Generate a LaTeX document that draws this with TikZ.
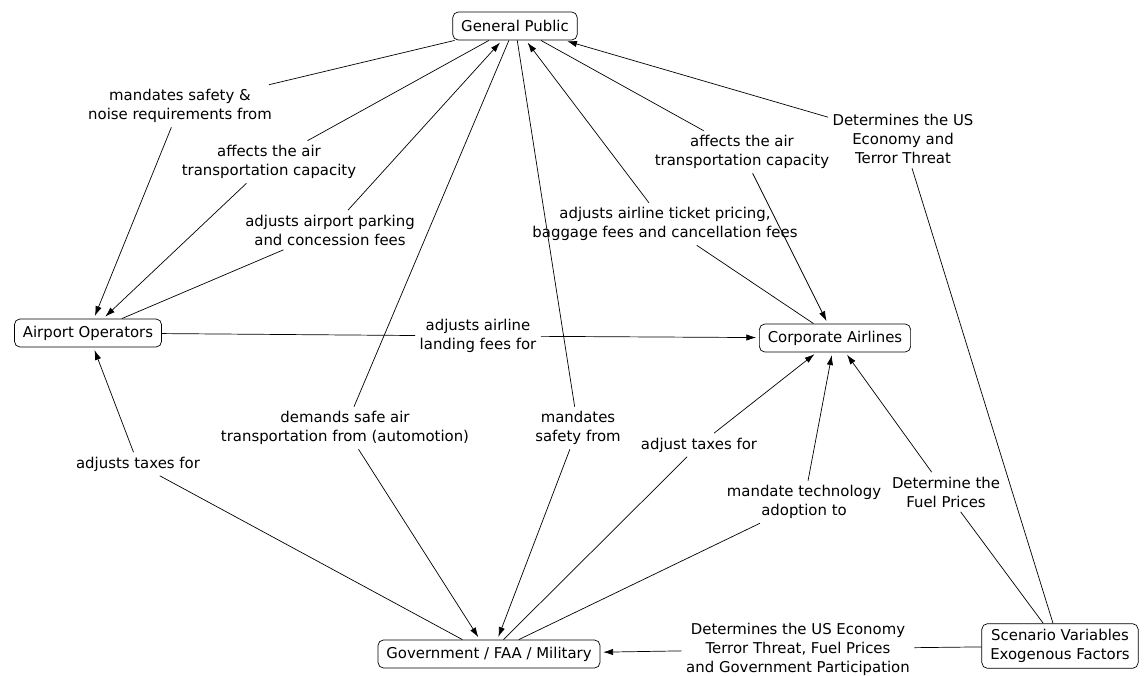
\documentclass[tikz,border=0pt]{standalone}
\usepackage{fontspec}
\setmainfont{DejaVu Sans}
\usetikzlibrary{arrows.meta}

\begin{document}
\begin{tikzpicture}[x=0.025cm,y=-0.025cm,
        font=\fontsize{10.6}{13.5}\selectfont,
        >={Latex[length=7pt,width=4.5pt]},
        every path/.style={line width=0.5pt},
        concept/.style={draw,rounded corners=4pt,inner xsep=6pt,inner ysep=4pt,minimum height=20pt},
        phrase/.style={align=center,inner sep=3pt},
        toarrow/.style={->,shorten >=2pt}]
        \useasboundingbox (0,0) rectangle (1146,676);
        \node(GP)[concept] at (515,26) {General Public};
        \node(AO)[concept] at (88,333) {Airport Operators};
        \node(CA)[concept] at (835,338) {Corporate Airlines};
        \node(GOV)[concept] at (489,654) {Government / FAA / Military};
        \node(SV)[concept,align=center] at (1060,646) {Scenario Variables\\Exogenous Factors};
        \node(L1)[phrase] at (180,106) {mandates safety \&\\noise requirements from};
        \node(L2)[phrase] at (269,162) {affects the air\\transportation capacity};
        \node(L3)[phrase] at (330,230) {adjusts airport parking\\and concession fees};
        \node(L4)[phrase] at (345,428) {demands safe air\\transportation from (automotion)};
        \node(L5)[phrase] at (578,428) {mandates\\safety from};
        \node(L6)[phrase] at (665,224) {adjusts airline ticket pricing,\\baggage fees and cancellation fees};
        \node(L7)[phrase] at (742,152) {affects the air\\transportation capacity};
        \node(L8)[phrase] at (903,139) {Determines the US\\Economy and\\Terror Threat};
        \node(L9)[phrase] at (478,336) {adjusts airline\\landing fees for};
        \node(L10)[phrase] at (138,464) {adjusts taxes for};
        \node(L11)[phrase] at (699,445) {adjust taxes for};
        \node(L12)[phrase] at (804,502) {mandate technology\\adoption to};
        \node(L13)[phrase] at (946,492) {Determine the\\Fuel Prices};
        \node(L14)[phrase] at (798,649) {Determines the US Economy\\Terror Threat, Fuel Prices\\and Government Participation};
        \draw(GP) -- (L1);
        \draw[toarrow](L1) -- (AO);
        \draw(GP) -- (L2);
        \draw[toarrow](L2) -- (AO);
        \draw(AO) -- (L3);
        \draw[toarrow](L3) -- (GP);
        \draw(GP) -- (L4);
        \draw[toarrow](L4) -- (GOV);
        \draw(GP) -- (L5);
        \draw[toarrow](L5) -- (GOV.60);
        \draw(CA) -- (L6);
        \draw[toarrow](L6) -- (GP);
        \draw(GP) -- (L7);
        \draw[toarrow](L7) -- (CA);
        \draw(SV) -- (L8);
        \draw[toarrow](L8) -- (GP);
        \draw(AO) -- (L9);
        \draw[toarrow](L9) -- (CA);
        \draw(GOV) -- (L10);
        \draw[toarrow](L10) -- (AO);
        \draw(GOV) -- (L11);
        \draw[toarrow](L11) -- (CA);
        \draw(GOV) -- (L12);
        \draw[toarrow](L12) -- (CA);
        \draw(SV) -- (L13);
        \draw[toarrow](L13) -- (CA);
        \draw(SV) -- (L14);
        \draw[toarrow](L14) -- (GOV);
    \end{tikzpicture}
\end{document}
